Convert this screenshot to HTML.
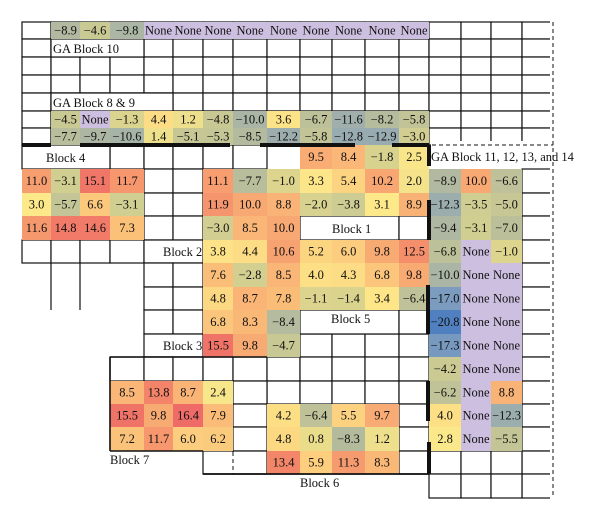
<!DOCTYPE html>
<html><head><meta charset="utf-8"><style>
html,body{margin:0;padding:0;background:#fff;width:600px;height:520px;overflow:hidden}
svg text{font-family:"Liberation Serif",serif;font-size:12.5px;fill:#111}
</style></head><body>
<svg id="s" width="600" height="520" xmlns="http://www.w3.org/2000/svg"></svg>
<script>
var X=[22,51,80,110,144,173,203,233,267,300,332,365,399,429,461,491,522,553];
var Y=[22,39,57,75,93,111,128,145,169,193,216,240,263,287,310,334,357,381,404,427,451,474,498];
var s=document.getElementById('s'),h='';
var stops=[[-21,[79,127,192]],[-17,[123,155,191]],[-12,[158,174,173]],[-8,[182,188,156]],[-4,[204,203,147]],[0,[226,216,140]],[3,[253,233,138]],[7,[251,196,122]],[10,[248,168,115]],[13,[244,138,105]],[16.5,[238,106,103]]];
function col(v){if(v==='None')return '#cdbfe0';v=parseFloat(v);
 if(v<=stops[0][0])return 'rgb('+stops[0][1]+')';
 for(var i=1;i<stops.length;i++){if(v<=stops[i][0]){var a=stops[i-1],b=stops[i],t=(v-a[0])/(b[0]-a[0]);
 return 'rgb('+[0,1,2].map(function(k){return Math.round(a[1][k]+(b[1][k]-a[1][k])*t)}).join(',')+')';}}
 return 'rgb('+stops[stops.length-1][1]+')';}
function line(x1,y1,x2,y2,w,d){h+='<line x1="'+x1+'" y1="'+y1+'" x2="'+x2+'" y2="'+y2+'" stroke="#111" stroke-width="'+(w||1.2)+'"'+(d?' stroke-dasharray="4,3"':'')+'/>';}
function grid(c0,c1,r0,r1){for(var c=c0;c<=c1;c++)for(var r=r0;r<=r1;r++)h+='<rect x="'+X[c]+'" y="'+Y[r]+'" width="'+(X[c+1]-X[c])+'" height="'+(Y[r+1]-Y[r])+'" fill="#fff" stroke="#111" stroke-width="1.2"/>';}
function merged(c0,c1,r){h+='<rect x="'+X[c0]+'" y="'+Y[r]+'" width="'+(X[c1+1]-X[c0])+'" height="'+(Y[r+1]-Y[r])+'" fill="#fff" stroke="#111" stroke-width="1.2"/>';}
function cells(c0,r,vals){vals.forEach(function(v,i){var c=c0+i,x=X[c],w=X[c+1]-x,y=Y[r],hh=Y[r+1]-y;
 h+='<rect x="'+x+'" y="'+y+'" width="'+w+'" height="'+hh+'" fill="'+col(v)+'"/>';
 h+='<text x="'+(x+w/2)+'" y="'+(y+hh/2+4)+'" text-anchor="middle">'+v.replace('-','−')+'</text>';});}
function txt(x,y,t){h+='<text x="'+x+'" y="'+y+'">'+t+'</text>';}
grid(0,16,0,6);
merged(1,3,1);merged(1,4,4);
grid(3,7,7,7);merged(0,2,7);
grid(4,5,8,10);grid(0,3,11,11);merged(4,5,11);
line(51,263,51,310);line(80,263,80,310);
grid(4,5,12,14);merged(4,5,15);
grid(3,7,16,16);grid(8,12,15,17);grid(6,7,17,17);
grid(7,7,18,19);grid(12,12,18,20);grid(6,7,20,20);
grid(16,16,8,21);grid(13,15,20,21);
merged(9,11,10);grid(12,12,10,10);merged(9,11,14);grid(12,12,14,14);
cells(1,0,['-8.9','-4.6','-9.8','None','None','None','None','None','None','None','None','None']);
cells(1,5,['-4.5','None','-1.3','4.4','1.2','-4.8','-10.0','3.6','-6.7','-11.6','-8.2','-5.8']);
cells(1,6,['-7.7','-9.7','-10.6','1.4','-5.1','-5.3','-8.5','-12.2','-5.8','-12.8','-12.9','-3.0']);
cells(0,8,['11.0','-3.1','15.1','11.7']);cells(0,9,['3.0','-5.7','6.6','-3.1']);cells(0,10,['11.6','14.8','14.6','7.3']);
var b2=[['11.1','-7.7','-1.0'],['11.9','10.0','8.8'],['-3.0','8.5','10.0'],['3.8','4.4','10.6'],['7.6','-2.8','8.5'],['4.8','8.7','7.8'],['6.8','8.3','-8.4'],['15.5','9.8','-4.7']];
b2.forEach(function(r,i){cells(6,8+i,r)});
cells(9,7,['9.5','8.4','-1.8','2.5']);cells(9,8,['3.3','5.4','10.2','2.0']);cells(9,9,['-2.0','-3.8','3.1','8.9']);
cells(9,11,['5.2','6.0','9.8','12.5']);cells(9,12,['4.0','4.3','6.8','9.8']);cells(9,13,['-1.1','-1.4','3.4','-6.4']);
var rb=[['-8.9','10.0','-6.6'],['-12.3','-3.5','-5.0'],['-9.4','-3.1','-7.0'],['-6.8','None','-1.0'],['-10.0','None','None'],['-17.0','None','None'],['-20.8','None','None'],['-17.3','None','None'],['-4.2','None','None'],['-6.2','None','8.8'],['4.0','None','-12.3'],['2.8','None','-5.5']];
rb.forEach(function(r,i){cells(13,8+i,r)});
cells(3,17,['8.5','13.8','8.7','2.4']);cells(3,18,['15.5','9.8','16.4','7.9']);cells(3,19,['7.2','11.7','6.0','6.2']);
cells(8,18,['4.2','-6.4','5.5','9.7']);cells(8,19,['4.8','0.8','-8.3','1.2']);cells(8,20,['13.4','5.9','11.3','8.3']);
line(22,145,51,145,4);line(80,145,230,145,4);line(260,145,355,145,4);line(392,145,429,145,4);
line(429,145,429,166,4);line(429,200,429,240,4);line(428,285,428,334,4);line(428,381,428,421,4);line(429,442,429,474,4);
line(203,474,429,474,1.8);line(110,451,203,451,1.6);line(110,357,110,451,1.6);line(110,357,267,357,1.6);
h+='<rect x="229" y="452" width="8" height="21" fill="#fff"/>';line(233,452,233,474,1,true);
h+='<rect x="550" y="20" width="8" height="480" fill="#fff"/>';line(553,22,553,498,1,true);
h+='<rect x="431" y="141" width="120" height="8" fill="#fff"/>';line(432,145,553,145,1,true);
txt(53,53,'GA Block 10');txt(53,107,'GA Block 8 &amp; 9');txt(46,162,'Block 4');
txt(163,256,'Block 2');txt(163,350,'Block 3');txt(110,464,'Block 7');txt(300,487,'Block 6');
txt(332,233,'Block 1');txt(331,323,'Block 5');txt(431,161,'GA Block 11, 12, 13, and 14');
s.innerHTML=h;
</script>
</body></html>
